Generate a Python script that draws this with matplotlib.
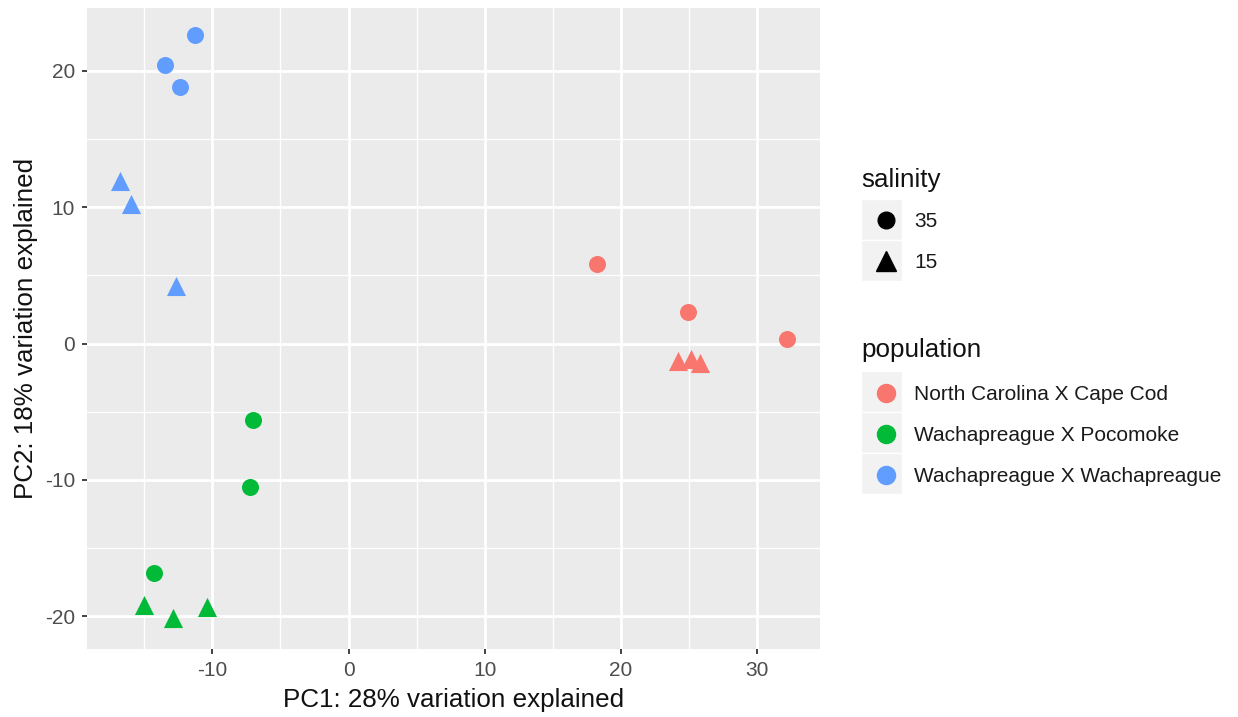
import matplotlib.pyplot as plt
import matplotlib as mpl
from matplotlib.lines import Line2D
from matplotlib.patches import Rectangle

# --------------------------------------------------------------
# Data
# --------------------------------------------------------------
populations = ['North Carolina X Cape Cod', 'Wachapreague X Pocomoke', 'Wachapreague X Wachapreague']
pop_colors = ['#F8766D', '#00BA38', '#619CFF']
salinity_levels = ['35', '15']
salinity_markers = ['o', '^']

# PC1 / PC2 per population, salinity 35
pc1_35 = [[18.2, 24.9, 32.2], [-7.0, -7.2, -14.3], [-11.3, -13.5, -12.4]]
pc2_35 = [[5.8, 2.3, 0.3], [-5.6, -10.5, -16.8], [22.6, 20.4, 18.8]]
# PC1 / PC2 per population, salinity 15
pc1_15 = [[24.2, 25.1, 25.8], [-15.0, -12.9, -10.4], [-16.8, -16.0, -12.7]]
pc2_15 = [[-1.3, -1.1, -1.4], [-19.2, -20.1, -19.3], [11.9, 10.2, 4.2]]

xticks = [-10, 0, 10, 20, 30]
yticks = [-20, -10, 0, 10, 20]

# --------------------------------------------------------------
# Settings
# --------------------------------------------------------------
mpl.rcParams['font.family'] = ['Liberation Sans', 'DejaVu Sans']
mpl.rcParams['axes.unicode_minus'] = False
W, H = 1238, 717
fig = plt.figure(figsize=(W / 100, H / 100), dpi=100)
ax = fig.add_axes([87 / W, 1 - 649 / H, (820 - 87) / W, (649 - 8) / H])
ax.set_facecolor('#EBEBEB')

# --------------------------------------------------------------
# Points
# --------------------------------------------------------------
for i, col in enumerate(pop_colors):
    ax.scatter(pc1_35[i], pc2_35[i], s=150, marker='o', color=col, linewidths=0, zorder=3)
    ax.scatter(pc1_15[i], pc2_15[i], s=190, marker='^', color=col, linewidths=0, zorder=3)

ax.set_xlim(-19.2, 34.6)
ax.set_ylim(-22.4, 24.6)
ax.set_xticks(xticks)
ax.set_yticks(yticks)
ax.set_xticks([-15, -5, 5, 15, 25], minor=True)
ax.set_yticks([-15, -5, 5, 15], minor=True)
ax.grid(which='major', color='white', linewidth=2.0, zorder=0)
ax.grid(which='minor', color='white', linewidth=1.0, zorder=0)
ax.set_axisbelow(True)
for sp in ax.spines.values():
    sp.set_visible(False)
ax.tick_params(which='major', length=3.6, width=1.3, color='#333333', labelsize=15,
               labelcolor='#4D4D4D', pad=5)
ax.tick_params(which='minor', length=0)
ax.set_xlabel('PC1: 28% variation explained', fontsize=18.7, color='#111111', labelpad=6)
ax.set_ylabel('PC2: 18% variation explained', fontsize=18.7, color='#111111', labelpad=5)

# --------------------------------------------------------------
# Legends
# --------------------------------------------------------------
sal_handles = [Line2D([], [], linestyle='', marker=m, color='black', markersize=12 if m == 'o' else 14)
               for m in salinity_markers]
pop_handles = [Line2D([], [], linestyle='', marker='o', color=c, markersize=13) for c in pop_colors]

def key_boxes(y_top, n):
    for k in range(n):
        fig.patches.append(Rectangle((861 / W, 1 - (y_top + 41 * (k + 1)) / H), 41 / W, 41 / H,
                                     transform=fig.transFigure, facecolor='#F2F2F2',
                                     edgecolor='white', linewidth=1, zorder=0))

key_boxes(199, 2)
key_boxes(371, 3)

fig.text(861 / W, 1 - 180 / H, 'salinity', fontsize=18.7, va='center', ha='left', color='#111111')
fig.text(861 / W, 1 - 350 / H, 'population', fontsize=18.7, va='center', ha='left', color='#111111')

leg1 = fig.legend(sal_handles, salinity_levels, loc='upper left',
                  bbox_to_anchor=(856 / W, 1 - 202 / H), frameon=False, fontsize=15,
                  handlelength=1.9, handletextpad=0.4, labelspacing=1.05, borderpad=0)
leg2 = fig.legend(pop_handles, populations, loc='upper left',
                  bbox_to_anchor=(856 / W, 1 - 375 / H), frameon=False, fontsize=15,
                  handlelength=1.9, handletextpad=0.4, labelspacing=1.05, borderpad=0)
for lg in (leg1, leg2):
    for t in lg.get_texts():
        t.set_color('#1A1A1A')

fig.savefig('out.png', dpi=100)
